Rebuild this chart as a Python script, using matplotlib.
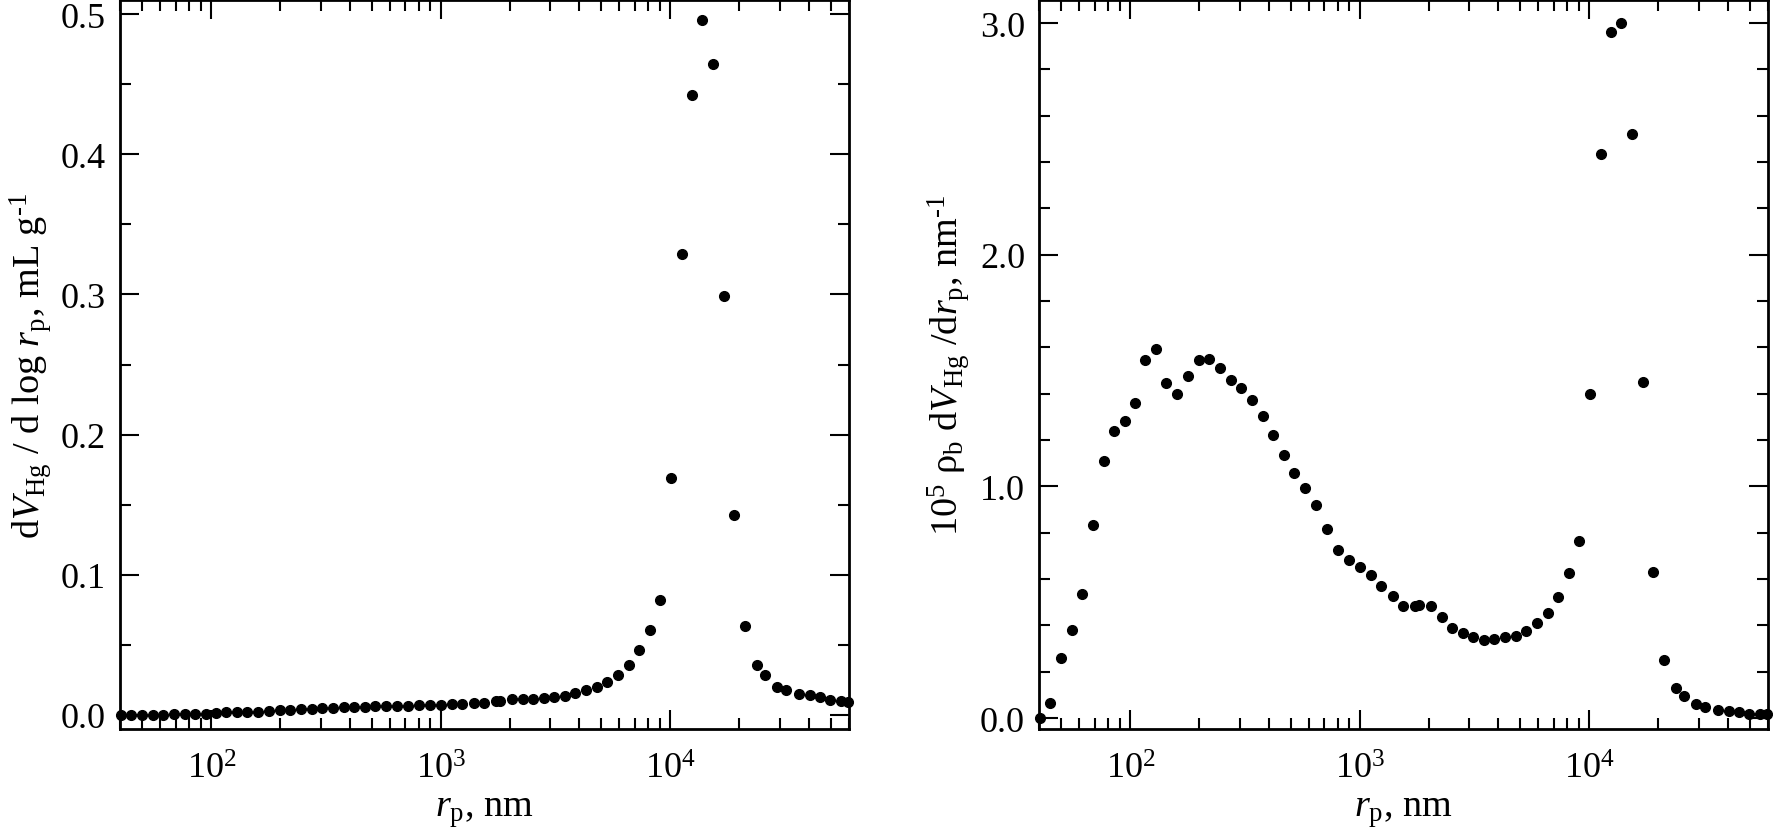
import matplotlib
matplotlib.use("Agg")
import matplotlib.pyplot as plt
from matplotlib.ticker import LogLocator, MultipleLocator, FormatStrFormatter, NullFormatter

plt.rcParams['font.family'] = ['Liberation Serif', 'DejaVu Serif']
plt.rcParams['mathtext.fontset'] = 'custom'
plt.rcParams['mathtext.rm'] = 'Liberation Serif'
plt.rcParams['mathtext.it'] = 'Liberation Serif:italic'
plt.rcParams['mathtext.bf'] = 'Liberation Serif:bold'

# pore radius, nm
rp = [40.3, 44.8, 49.9, 55.5, 61.6, 68.6, 76.5, 85.1, 94.5, 104.8,
      116.3, 129.4, 143.7, 160.3, 178.5, 198.5, 220.4, 245.8, 273.7, 304.2,
      337.9, 376.6, 418.8, 466.5, 518.8, 578.8, 645.4, 721.6, 803, 900,
      999, 1113, 1242, 1390, 1548, 1736, 1809, 2042, 2269, 2526,
      2806, 3124, 3470, 3857, 4286, 4778, 5312, 5902, 6580, 7325,
      8111, 8980, 10015, 11240, 12408, 13720, 15300, 17085, 18860, 21060,
      23960, 25705, 29280, 32005, 36350, 40600, 44655, 49625, 55140, 59570]

# dV_Hg / d log r_p, mL/g
dv_dlogr = [0, 0, 0, 0, 0.0002, 0.0005, 0.0005, 0.0007, 0.0010, 0.0014,
            0.0019, 0.0021, 0.0021, 0.0024, 0.0029, 0.0033, 0.0038, 0.0040, 0.0045, 0.0050,
            0.0052, 0.0055, 0.0057, 0.0060, 0.0062, 0.0064, 0.0067, 0.0067, 0.0071, 0.0073,
            0.0074, 0.0076, 0.0079, 0.0083, 0.0086, 0.0098, 0.0100, 0.0112, 0.0112, 0.0112,
            0.0124, 0.0129, 0.0138, 0.0157, 0.0176, 0.0200, 0.0236, 0.0288, 0.0357, 0.0462,
            0.0607, 0.0823, 0.169, 0.3286, 0.4424, 0.4957, 0.4643, 0.2989, 0.1424, 0.0633,
            0.0359, 0.0285, 0.0202, 0.0178, 0.0152, 0.0140, 0.0131, 0.0109, 0.0098, 0.0095]

# 1e5 rho_b dV_Hg / dr_p, 1/nm
dv_dr = [0.000, 0.066, 0.259, 0.380, 0.535, 0.833, 1.108, 1.241, 1.281, 1.359,
         1.547, 1.595, 1.448, 1.400, 1.477, 1.544, 1.551, 1.511, 1.458, 1.426,
         1.374, 1.303, 1.222, 1.136, 1.056, 0.992, 0.918, 0.815, 0.727, 0.681,
         0.653, 0.619, 0.570, 0.525, 0.485, 0.484, 0.489, 0.484, 0.436, 0.390,
         0.368, 0.348, 0.338, 0.342, 0.348, 0.354, 0.374, 0.409, 0.453, 0.522,
         0.625, 0.763, 1.398, 2.434, 2.962, 3.001, 2.520, 1.452, 0.629, 0.252,
         0.128, 0.095, 0.059, 0.0475, 0.036, 0.029, 0.0245, 0.0187, 0.016, 0.016]

W, H = 1773, 837
fig = plt.figure(figsize=(W / 100, H / 100), dpi=100)

def px_axes(x0, x1, y0, y1):
    return fig.add_axes([x0 / W, 1 - y1 / H, (x1 - x0) / W, (y1 - y0) / H])

ax1 = px_axes(120, 849, 1, 730)
ax2 = px_axes(1039, 1768, 1, 730)

FS = 26
FSL = 27.5
HY = '\u2010'

def style(ax, ymaj, ymin, fmt):
    ax.set_xscale('log')
    ax.set_xlim(40, 60000)
    ax.xaxis.set_major_locator(LogLocator(base=10, numticks=10))
    ax.xaxis.set_minor_locator(LogLocator(base=10, subs=range(2, 10), numticks=20))
    ax.xaxis.set_minor_formatter(NullFormatter())
    ax.yaxis.set_major_locator(MultipleLocator(ymaj))
    ax.yaxis.set_minor_locator(MultipleLocator(ymin))
    ax.yaxis.set_major_formatter(FormatStrFormatter(fmt))
    ax.tick_params(which='both', direction='in', top=True, right=True,
                   labelsize=FS, width=1.5, colors='black')
    ax.tick_params(which='major', length=14)
    ax.tick_params(axis='y', which='major', pad=10)
    ax.tick_params(axis='x', which='major', pad=17)
    ax.tick_params(which='minor', length=8)
    for s in ax.spines.values():
        s.set_linewidth(2.0)
    ax.set_xlabel(r'$r_{\rm p}$, nm', fontsize=FSL, labelpad=6)

ax1.plot(rp, dv_dlogr, 'o', color='black', markersize=7, clip_on=False, zorder=5)
style(ax1, 0.1, 0.05, '%.1f')
ax1.set_ylim(-0.01, 0.51)
ax1.set_ylabel(r'd$V_{\rm Hg}$ / d log $r_{\rm p}$, mL g$^{\rm ' + HY + r'1}$', fontsize=FSL, labelpad=5)

ax2.plot(rp, dv_dr, 'o', color='black', markersize=7, clip_on=False, zorder=5)
style(ax2, 1.0, 0.2, '%.1f')
ax2.set_ylim(-0.047, 3.1)
ax2.set_ylabel(r'10$^{\rm 5}$ $\rm\rho_b$ d$V_{\rm Hg}$ /d$r_{\rm p}$, nm$^{\rm ' + HY + r'1}$', fontsize=FSL, labelpad=6)

fig.savefig('out.png', dpi=100)
